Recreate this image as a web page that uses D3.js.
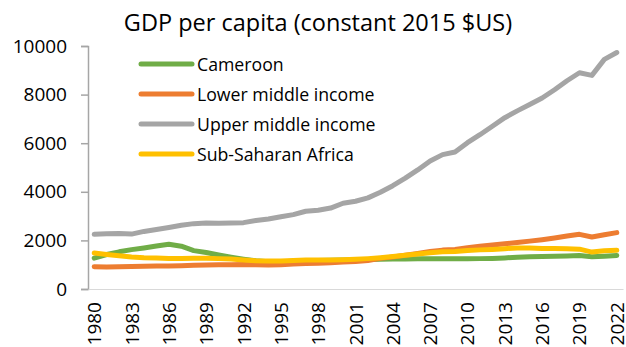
<!DOCTYPE html>
<html>
<head>
<meta charset="utf-8">
<script src="https://cdn.jsdelivr.net/npm/d3@7"></script>
<style>
  html, body { margin: 0; padding: 0; background: #fff; }
  svg { display: block; font-family: "Open Sans", "Noto Sans", sans-serif; }
</style>
</head>
<body>
<svg id="chart" width="626" height="347"></svg>
<script>
// GDP per capita, constant 2015 US$, 1980–2022
const years = d3.range(1980, 2023);

const cameroon = [
  1270, 1420, 1530, 1620, 1690, 1770, 1840, 1760, 1580, 1500,
  1400, 1310, 1230, 1160, 1120, 1120, 1140, 1160, 1170, 1180,
  1190, 1200, 1210, 1220, 1230, 1230, 1240, 1240, 1250, 1240,
  1240, 1250, 1260, 1280, 1310, 1330, 1340, 1350, 1360, 1380,
  1330, 1350, 1380
];
const lowerMiddle = [
  920, 910, 920, 930, 940, 950, 950, 960, 980, 990,
  1000, 1000, 1010, 1000, 990, 1000, 1030, 1050, 1060, 1080,
  1110, 1130, 1170, 1260, 1320, 1390, 1460, 1540, 1600, 1630,
  1700, 1760, 1810, 1860, 1910, 1970, 2030, 2100, 2180, 2250,
  2140, 2230, 2320
];
const upperMiddle = [
  2250, 2270, 2280, 2260, 2370, 2450, 2530, 2620, 2690, 2720,
  2710, 2720, 2730, 2820, 2880, 2970, 3060, 3200, 3240, 3330,
  3530, 3610, 3750, 3980, 4250, 4560, 4900, 5270, 5530, 5640,
  6020, 6350, 6700, 7050, 7330, 7590, 7860, 8200, 8570, 8900,
  8790, 9450, 9730
];
const subSaharan = [
  1480, 1420, 1370, 1320, 1290, 1280, 1260, 1260, 1270, 1270,
  1250, 1230, 1190, 1160, 1150, 1150, 1170, 1190, 1190, 1190,
  1200, 1220, 1250, 1290, 1340, 1390, 1440, 1490, 1530, 1540,
  1580, 1610, 1630, 1660, 1690, 1690, 1670, 1670, 1660, 1640,
  1520, 1570, 1590
];

const seriesNames = ["Cameroon", "Lower middle income", "Upper middle income", "Sub-Saharan Africa"];
const seriesValues = [cameroon, lowerMiddle, upperMiddle, subSaharan];
const seriesColors = ["#70AD47", "#ED7D31", "#A5A5A5", "#FFC000"];

const yTicks = [0, 2000, 4000, 6000, 8000, 10000];
const xTickLabels = years.filter(y => (y - 1980) % 3 === 0);

const titleText = "GDP per capita (constant 2015 $US)";

const svg = d3.select("#chart");
const margin = { left: 88, right: 3, top: 46, bottom: 58 };
const W = 626, H = 347;
const fontStack = "\"Open Sans\", \"Noto Sans\", sans-serif";

const x = d3.scaleBand()
  .domain(years)
  .range([margin.left, W - margin.right])
  .paddingInner(0).paddingOuter(0);

const y = d3.scaleLinear()
  .domain([0, 10000])
  .range([H - margin.bottom, margin.top]);

const cx = yr => x(yr) + x.bandwidth() / 2;

// title
svg.append("text")
  .attr("x", 318)
  .attr("y", 31)
  .attr("text-anchor", "middle")
  .attr("font-size", 23.5)
  .attr("fill", "#000")
  .text(titleText);

// y axis
const yAxis = d3.axisLeft(y)
  .tickValues(yTicks)
  .tickSize(7)
  .tickPadding(14)
  .tickFormat(d3.format("d"));

const gy = svg.append("g")
  .attr("transform", `translate(${margin.left},0)`)
  .call(yAxis);
gy.select(".domain").attr("stroke", "#A6A6A6").attr("stroke-width", 1.5);
gy.selectAll(".tick line").attr("stroke", "#A6A6A6").attr("stroke-width", 1.5);
gy.selectAll(".tick text")
  .attr("font-size", 19)
  .attr("font-family", fontStack)
  .attr("fill", "#000");

// x axis
const xAxis = d3.axisBottom(x)
  .tickValues(xTickLabels)
  .tickSize(0)
  .tickPadding(0);

const gx = svg.append("g")
  .attr("transform", `translate(0,${H - margin.bottom})`)
  .call(xAxis);
gx.select(".domain").attr("stroke", "#D9D9D9").attr("stroke-width", 1.2);
gx.selectAll(".tick text")
  .attr("font-size", 19)
  .attr("font-family", fontStack)
  .attr("fill", "#000")
  .attr("text-anchor", "end")
  .attr("dy", null)
  .attr("y", 0)
  .attr("dominant-baseline", "central")
  .attr("transform", "translate(0,13) rotate(-90)");

// lines
const line = d3.line()
  .x((d, i) => cx(years[i]))
  .y(d => y(d));

seriesValues.forEach((vals, i) => {
  svg.append("path")
    .datum(vals)
    .attr("fill", "none")
    .attr("stroke", seriesColors[i])
    .attr("stroke-width", 5)
    .attr("stroke-linejoin", "round")
    .attr("stroke-linecap", "round")
    .attr("d", line);
});

// legend
const legend = svg.append("g");
seriesNames.forEach((name, i) => {
  const ly = 64 + i * 30;
  legend.append("line")
    .attr("x1", 141).attr("x2", 192)
    .attr("y1", ly).attr("y2", ly)
    .attr("stroke", seriesColors[i])
    .attr("stroke-width", 5)
    .attr("stroke-linecap", "round");
  legend.append("text")
    .attr("x", 197)
    .attr("y", ly)
    .attr("dominant-baseline", "central")
    .attr("font-size", 17.7)
    .attr("fill", "#000")
    .text(name);
});
</script>
</body>
</html>
